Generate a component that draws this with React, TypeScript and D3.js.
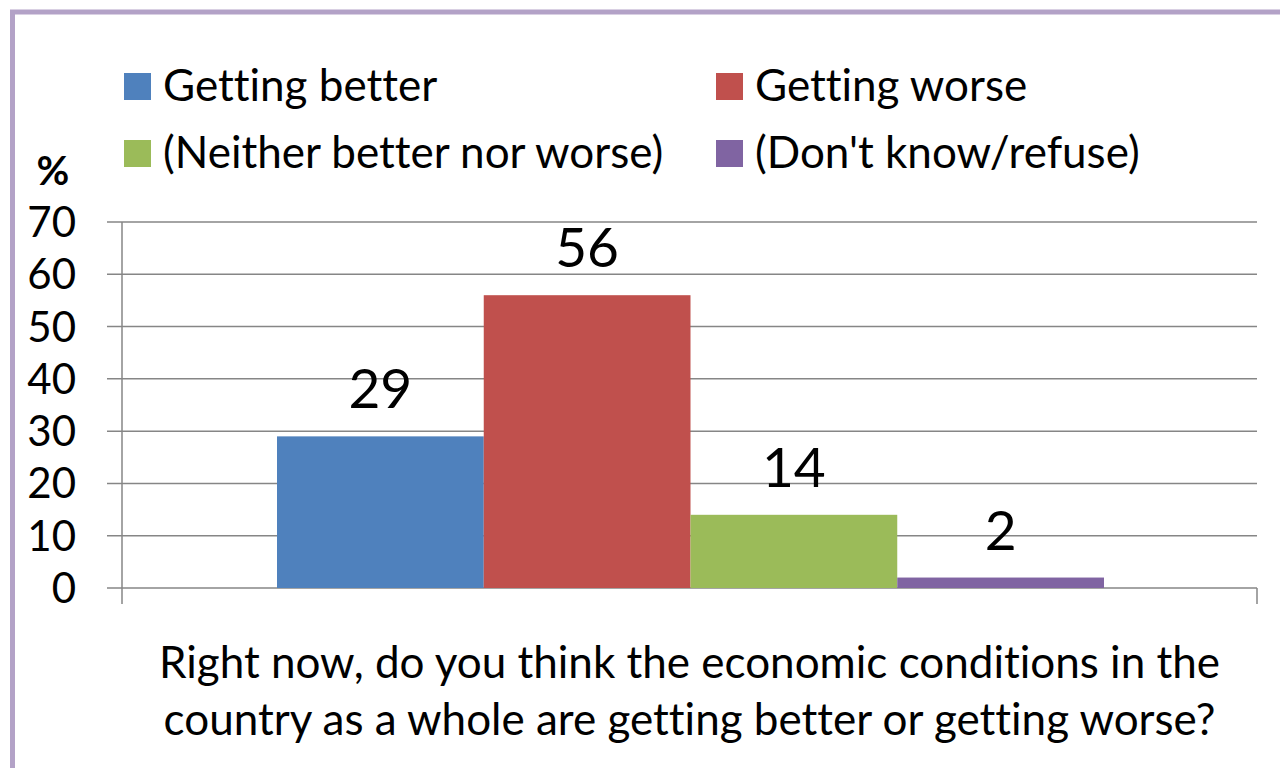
import React from "react";
import * as d3 from "d3";

const categories = ["Getting better", "Getting worse", "(Neither better nor worse)", "(Don't know/refuse)"];
const values = [29, 56, 14, 2];
const colors = ["#4f81bd", "#c0504d", "#9bbb59", "#8064a2"];
const yTicks = [0, 10, 20, 30, 40, 50, 60, 70];
const axisTitle = [
  "Right now, do you think the economic conditions in the",
  "country as a whole are getting better or getting worse?",
];

export default function App() {
  const W = 1280, H = 768;
  const plotLeft = 122, plotRight = 1257, plotTop = 222, plotBottom = 588;
  const y = d3.scaleLinear().domain([0, 70]).range([plotBottom, plotTop]);
  const group = d3.scaleBand().domain(["g"]).range([plotLeft, plotRight]).paddingInner(0).paddingOuter(0.1365);
  const x = d3.scaleBand().domain(categories).range([277, 1104]).padding(0);
  const font = "Lato, 'Open Sans', sans-serif";
  const legendPos = [
    { x: 124, y: 73 },
    { x: 716, y: 73 },
    { x: 124, y: 140 },
    { x: 716, y: 140 },
  ];
  return (
    <svg width={W} height={H} style={{ position: "absolute", left: 0, top: 0, fontVariantLigatures: "none" }} fontFamily={font}>
      <rect x={0} y={0} width={W} height={H} fill="#fff" />
      <rect x={12.5} y={12} width={W + 20} height={H + 20} fill="none" stroke="#b3a2c7" strokeWidth={5} />
      {legendPos.map((p, i) => (
        <g key={i}>
          <rect x={p.x} y={p.y} width={27} height={27} fill={colors[i]} />
          <text x={p.x + 39} y={p.y + 28} fontSize={44} fill="#000">{categories[i]}</text>
        </g>
      ))}
      <text x={53} y={185} fontSize={40} fontWeight="bold" textAnchor="middle">%</text>
      {yTicks.map((t) => (
        <g key={t}>
          <line x1={107} x2={plotRight} y1={y(t)} y2={y(t)} stroke="#868686" strokeWidth={1.5} />
          <text x={76} y={y(t) + 15} fontSize={42} textAnchor="end">{t}</text>
        </g>
      ))}
      <line x1={plotLeft} x2={plotLeft} y1={plotTop} y2={604} stroke="#868686" strokeWidth={1.5} />
      <line x1={plotRight} x2={plotRight} y1={plotBottom} y2={604} stroke="#868686" strokeWidth={1.5} />
      {categories.map((c, i) => (
        <g key={c}>
          <rect x={x(c)} y={y(values[i])} width={x.bandwidth()} height={plotBottom - y(values[i])} fill={colors[i]} />
          <text x={(x(c) as number) + x.bandwidth() / 2} y={y(values[i]) - 28} fontSize={55} textAnchor="middle">{values[i]}</text>
        </g>
      ))}
      {axisTitle.map((l, i) => (
        <text key={i} x={(group("g") as number) + group.bandwidth() / 2} y={678 + i * 57} fontSize={44} textAnchor="middle">{l}</text>
      ))}
    </svg>
  );
}
